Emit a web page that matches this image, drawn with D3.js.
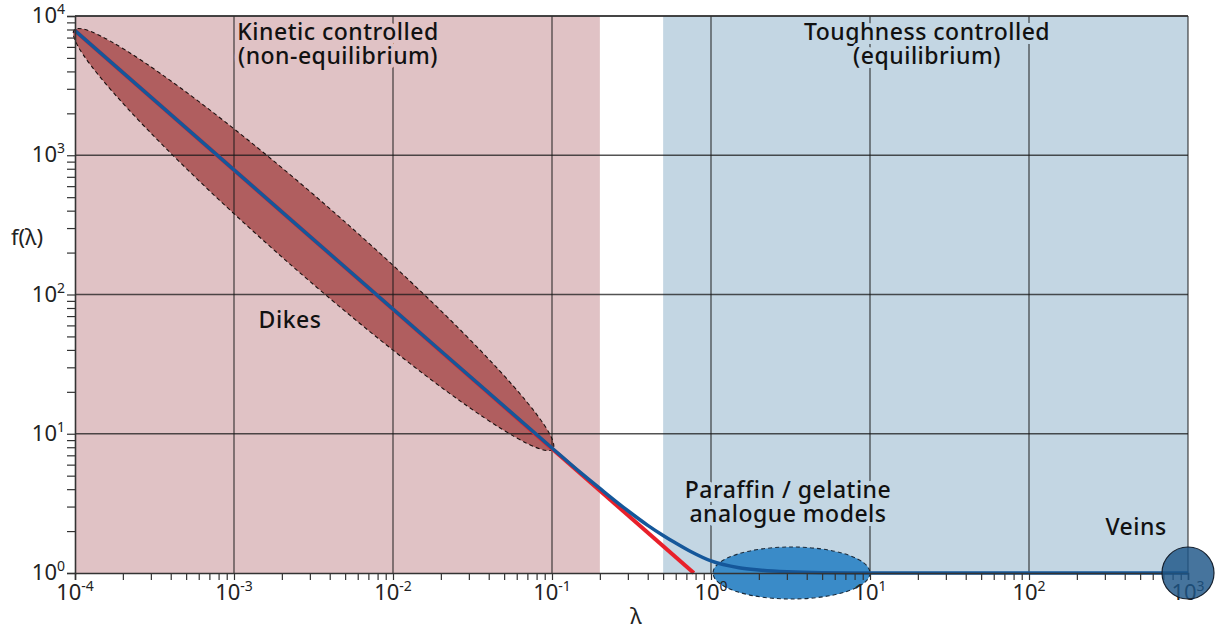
<!DOCTYPE html>
<html>
<head>
<meta charset="utf-8">
<script src="https://cdn.jsdelivr.net/npm/d3@7"></script>
<style>
  html, body { margin: 0; padding: 0; background: #ffffff; }
  svg { display: block; }
  text { font-family: "Noto Sans", "Open Sans", sans-serif; }
</style>
</head>
<body>
<svg id="chart" width="1215" height="630"></svg>
<script>
// ---------------- data ----------------
const xDecades = [1e-4, 1e-3, 1e-2, 1e-1, 1e0, 1e1, 1e2, 1e3];
const xExponents = ["-4", "-3", "-2", "-1", "0", "1", "2", "3"];
const yDecades = [1e0, 1e1, 1e2, 1e3, 1e4];
const yExponents = ["0", "1", "2", "3", "4"];

// regimes (lambda ranges)
const kineticRange = [1e-4, 0.2];
const toughnessRange = [0.5, 1e3];

// full solution f(lambda) (blue)
const blueLambda = [1e-4, 1e-3, 1e-2, 0.1, 0.15, 0.2, 0.3, 0.4, 0.5, 0.6, 0.75, 1.0, 1.5, 2, 3, 5, 10, 100, 1000];
const blueF      = [7850, 785, 78.5, 7.9, 5.3, 4.05, 2.8, 2.2, 1.86, 1.64, 1.42, 1.22, 1.09, 1.05, 1.02, 1.005, 1.0, 1.0, 1.0];
// kinetic asymptote (red)
const redLambda = [1e-4, 0.78];
const redF      = [7850, 1.0];

// data zones
const dikesEnds = [[1e-4, 7850], [0.1, 7.85]];
const paraffinRange = [1.03, 10];
const paraffinF = 1;
const veinsCenter = [1e3, 1];

const labels = {
  kinetic: ["Kinetic controlled", "(non-equilibrium)"],
  toughness: ["Toughness controlled", "(equilibrium)"],
  dikes: ["Dikes"],
  paraffin: ["Paraffin / gelatine", "analogue models"],
  veins: ["Veins"],
  xTitle: "λ",
  yTitle: "f(λ)"
};

// ---------------- layout ----------------
const svg = d3.select("#chart");
const L = 75, R = 1188, T = 16, B = 573;
const x = d3.scaleLog().domain([1e-4, 1e3]).range([L, R]);
const y = d3.scaleLog().domain([1, 1e4]).range([B, T]);

const pink = "#e0c2c5", lightBlue = "#c3d6e3";

// backgrounds
svg.append("rect").attr("x", x(kineticRange[0])).attr("y", T)
  .attr("width", x(kineticRange[1]) - x(kineticRange[0])).attr("height", B - T).attr("fill", pink);
svg.append("rect").attr("x", x(toughnessRange[0])).attr("y", T)
  .attr("width", x(toughnessRange[1]) - x(toughnessRange[0])).attr("height", B - T).attr("fill", lightBlue);

// dikes ellipse
{
  const x1 = x(dikesEnds[0][0]), y1 = y(dikesEnds[0][1]);
  const x2 = x(dikesEnds[1][0]), y2 = y(dikesEnds[1][1]);
  const cx = (x1 + x2) / 2, cy = (y1 + y2) / 2;
  const a = Math.hypot(x2 - x1, y2 - y1) / 2 + 1;
  const ang = Math.atan2(y2 - y1, x2 - x1) * 180 / Math.PI;
  svg.append("ellipse").attr("cx", 0).attr("cy", 0).attr("rx", a).attr("ry", 34)
    .attr("transform", `translate(${cx},${cy}) rotate(${ang})`)
    .attr("fill", "#b05e5f").attr("stroke", "#1a1010").attr("stroke-width", 1.1)
    .attr("stroke-dasharray", "4,3");
}
// paraffin ellipse
{
  const x1 = x(paraffinRange[0]), x2 = x(paraffinRange[1]);
  svg.append("ellipse").attr("cx", (x1 + x2) / 2).attr("cy", y(paraffinF))
    .attr("rx", (x2 - x1) / 2).attr("ry", 26)
    .attr("fill", "#3a8bc8").attr("stroke", "#1a2a3a").attr("stroke-width", 1.1)
    .attr("stroke-dasharray", "4,3");
}

// grid
const grid = svg.append("g").attr("stroke", "#1a1a1a").attr("stroke-opacity", 0.75).attr("stroke-width", 1.3);
grid.selectAll("line.v").data(xDecades.slice(1)).join("line")
  .attr("x1", d => x(d)).attr("x2", d => x(d)).attr("y1", T).attr("y2", B);
grid.selectAll("line.h").data(yDecades.slice(1)).join("line")
  .attr("x1", L).attr("x2", R).attr("y1", d => y(d)).attr("y2", d => y(d));

// curves
const line = d3.line().x(d => x(d[0])).y(d => y(d[1])).curve(d3.curveMonotoneX);
svg.append("path").datum(redLambda.map((l, i) => [l, redF[i]]))
  .attr("d", line).attr("fill", "none").attr("stroke", "#e8202a").attr("stroke-width", 4);
svg.append("path").datum(blueLambda.map((l, i) => [l, blueF[i]]))
  .attr("d", line).attr("fill", "none").attr("stroke", "#15579a").attr("stroke-width", 3.5);

// axes
const xAxis = d3.axisBottom(x).tickValues(x.ticks()).tickSize(7).tickFormat("");
const yAxis = d3.axisLeft(y).tickValues(y.ticks()).tickSize(8).tickFormat("");
const gx = svg.append("g").attr("transform", `translate(0,${B})`).call(xAxis);
const gy = svg.append("g").attr("transform", `translate(${L},0)`).call(yAxis);
[gx, gy].forEach(g => {
  g.select(".domain").attr("stroke", "#333").attr("stroke-width", 1.6);
  g.selectAll(".tick line").attr("stroke", "#333").attr("stroke-width", 1.2);
});
svg.append("line").attr("x1", L).attr("x2", R).attr("y1", T).attr("y2", T)
  .attr("stroke", "#333").attr("stroke-width", 1.4);

// tick labels
const xl = svg.append("g").attr("font-size", 22).attr("fill", "#222").attr("text-anchor", "middle");
xDecades.forEach((d, i) => {
  const t = xl.append("text").attr("x", x(d)).attr("y", B + 27);
  t.append("tspan").text("10");
  t.append("tspan").attr("dy", -9).attr("font-size", 14).text(xExponents[i]);
});
const yl = svg.append("g").attr("font-size", 22).attr("fill", "#222").attr("text-anchor", "end");
yDecades.forEach((d, i) => {
  const t = yl.append("text").attr("x", 65).attr("y", y(d) + 7);
  t.append("tspan").text("10");
  t.append("tspan").attr("dy", -9).attr("font-size", 14).text(yExponents[i]);
});

// veins circle (on top, translucent)
svg.append("circle").attr("cx", x(veinsCenter[0])).attr("cy", y(veinsCenter[1])).attr("r", 26)
  .attr("fill", "#1d5588").attr("fill-opacity", 0.82).attr("stroke", "#15202e").attr("stroke-width", 1.2);

// axis titles
svg.append("text").attr("x", 27).attr("y", 245).attr("text-anchor", "middle")
  .attr("font-size", 22).attr("fill", "#222").text(labels.yTitle);
svg.append("text").attr("x", 636).attr("y", 624).attr("text-anchor", "middle")
  .attr("font-size", 22).attr("fill", "#222").text(labels.xTitle);

// annotations (one text element per block, lines as tspans)
function block(lines, cx, y0, halo) {
  const t = svg.append("text").attr("x", cx).attr("y", y0)
    .attr("font-family", "'Open Sans', 'Noto Sans', sans-serif")
    .attr("font-size", 23).attr("font-weight", 500).attr("fill", "#111")
    .attr("letter-spacing", 0.5)
    .attr("text-anchor", "middle")
    .attr("stroke", halo).attr("stroke-width", 8).attr("stroke-linejoin", "round")
    .attr("paint-order", "stroke");
  lines.forEach((s, i) => {
    t.append("tspan").attr("x", cx).attr("dy", i === 0 ? 0 : 24).text(s);
  });
}
block(labels.kinetic, 338, 40, pink);
block(labels.toughness, 927, 40, lightBlue);
block(labels.paraffin, 788, 498, lightBlue);
block(labels.dikes, 290, 328, pink);
block(labels.veins, 1136, 535, lightBlue);
</script>
</body>
</html>
